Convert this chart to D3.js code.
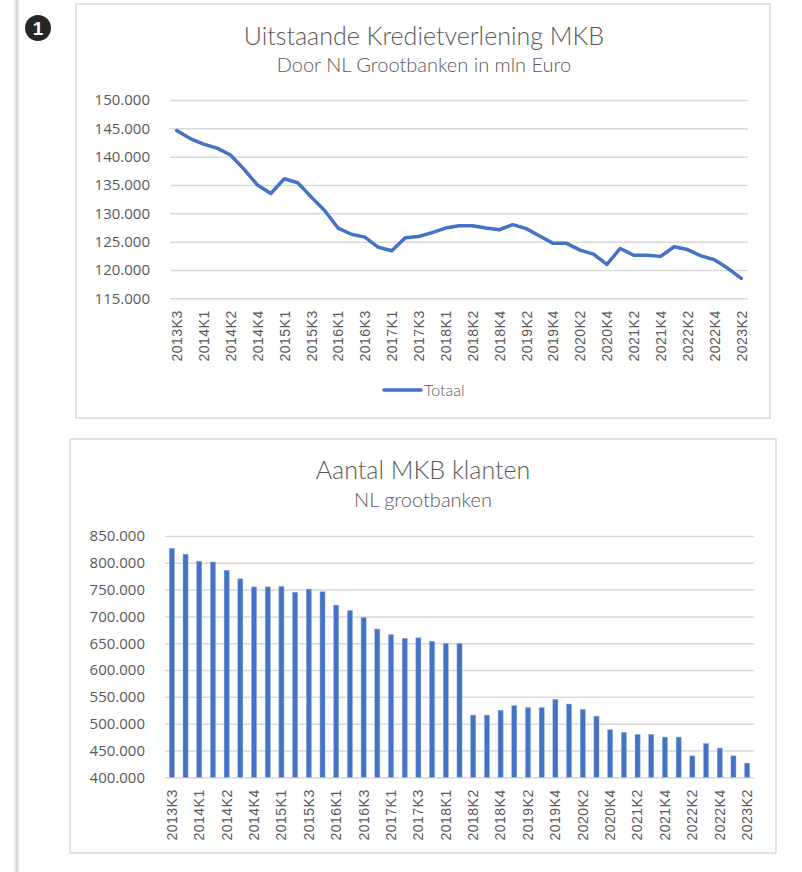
<!DOCTYPE html>
<html>
<head>
<meta charset="utf-8">
<script src="https://cdn.jsdelivr.net/npm/d3@7"></script>
<style>
  body { margin: 0; background: #fff; }
  text { fill: #595959; }
</style>
</head>
<body>
<div id="my_dataviz"></div>
<script>
// kwartalen (43 stuks, alleen de even posities krijgen een label op de as)
var kwartalen = ["2013K3","2013K4","2014K1","2014K1b","2014K2","2014K3","2014K4","2014K4b",
    "2015K1","2015K2","2015K3","2015K4","2016K1","2016K2","2016K3","2016K4",
    "2017K1","2017K2","2017K3","2017K4","2018K1","2018K1b","2018K2","2018K3","2018K4",
    "2019K1","2019K2","2019K3","2019K4","2020K1","2020K2","2020K3","2020K4",
    "2021K1","2021K2","2021K3","2021K4","2022K1","2022K2","2022K3","2022K4",
    "2023K1","2023K2"];

// uitstaande kredietverlening MKB, mln euro
var totaal = [144600,143200,142200,141500,140300,137800,135000,133500,136100,135400,
    132900,130500,127400,126300,125800,124000,123400,125700,125900,126600,
    127400,127800,127800,127400,127100,128000,127300,126000,124700,124700,
    123500,122800,121000,123800,122600,122600,122400,124100,123600,122500,
    121800,120300,118500];

// aantal MKB klanten
var klanten = [827000,816000,803000,801500,786000,770000,755000,755000,756000,745000,
    751000,746000,721000,711000,698000,676500,666000,659000,660000,653500,
    650000,650000,516000,516000,525000,533500,530000,530000,545500,536600,
    526700,514000,488600,483600,480000,480000,475000,475000,440000,463000,
    454500,440000,426500];

var ticksKrediet = [115000,120000,125000,130000,135000,140000,145000,150000];
var ticksKlanten = [400000,450000,500000,550000,600000,650000,700000,750000,800000,850000];

var blauw = "#4472C4";
var nl = d3.formatLocale({decimal: ",", thousands: ".", grouping: [3], currency: ["€", ""]});
var fmt = nl.format(",.0f");
var idx = d3.range(kwartalen.length);
var labelIdx = idx.filter(function(i) { return i % 2 === 0; });

var svg = d3.select("#my_dataviz")
    .append("svg")
    .attr("width", 802)
    .attr("height", 872);

// schaduwrand links
var defs = svg.append("defs");
var grad = defs.append("linearGradient").attr("id", "rand");
grad.append("stop").attr("offset", "0%").attr("stop-color", "#ffffff");
grad.append("stop").attr("offset", "60%").attr("stop-color", "#d6d6d6");
grad.append("stop").attr("offset", "100%").attr("stop-color", "#efefef");
svg.append("rect")
    .attr("x", 13).attr("y", 0)
    .attr("width", 6).attr("height", 872)
    .attr("fill", "url(#rand)");

// nummer-icoon
svg.append("circle")
    .attr("cx", 38).attr("cy", 28).attr("r", 13)
    .attr("fill", "#262626");
svg.append("text")
    .attr("x", 38).attr("y", 35)
    .attr("text-anchor", "middle")
    .style("fill", "#fff")
    .style("font", "bold 19px 'Liberation Sans', Arial, sans-serif")
    .text("1");

function kader(x, y, w, h) {
    svg.append("rect")
        .attr("x", x).attr("y", y)
        .attr("width", w).attr("height", h)
        .attr("fill", "#fff")
        .attr("stroke", "#d9d9d9")
        .attr("stroke-width", 1.5);
}

function titels(cx, y1, t1, y2, t2) {
    svg.append("text")
        .attr("x", cx).attr("y", y1)
        .attr("text-anchor", "middle")
        .style("font-family", "Lato, sans-serif")
        .style("font-weight", 300)
        .style("font-size", "25px")
        .text(t1);
    svg.append("text")
        .attr("x", cx).attr("y", y2)
        .attr("text-anchor", "middle")
        .style("font-family", "Lato, sans-serif")
        .style("font-weight", 300)
        .style("font-size", "20px")
        .text(t2);
}

function yAs(g, y, ticks, left, right) {
    g.attr("transform", "translate(" + left + ",0)")
        .call(d3.axisLeft(y).tickValues(ticks).tickFormat(fmt)
            .tickSize(-(right - left)).tickPadding(20))
        .call(function(g) { g.select(".domain").remove(); })
        .call(function(g) {
            g.selectAll(".tick line").attr("stroke", "#d9d9d9").attr("stroke-width", 1.5);
            g.selectAll(".tick text")
                .style("font-family", "'Open Sans', sans-serif")
                .style("font-size", "15px")
                .style("fill", "#595959");
        });
}

function xAs(g, x, yPos) {
    g.attr("transform", "translate(0," + yPos + ")")
        .call(d3.axisBottom(x).tickValues(labelIdx)
            .tickFormat(function(i) { return kwartalen[i]; })
            .tickSize(0))
        .call(function(g) { g.select(".domain").remove(); })
        .call(function(g) {
            g.selectAll(".tick text")
                .attr("transform", "rotate(-90)")
                .attr("text-anchor", "end")
                .attr("x", -12)
                .attr("y", 0)
                .attr("dy", "0.35em")
                .style("font-family", "'Liberation Sans', Arial, sans-serif")
                .style("font-size", "14px")
                .style("letter-spacing", "0.5px")
                .style("fill", "#595959");
        });
}

// ---- grafiek 1: lijn ----
kader(76, 4, 694, 414);
titels(424, 45, "Uitstaande Kredietverlening MKB", 72, "Door NL Grootbanken in mln Euro");

var x1 = d3.scalePoint().domain(idx).range([170, 748]).padding(0.5);
var y1 = d3.scaleLinear().domain([115000, 150000]).range([298.3, 100]);

svg.append("g").call(yAs, y1, ticksKrediet, 170, 748);
svg.append("g").call(xAs, x1, 298.3);

svg.append("path")
    .datum(totaal)
    .attr("fill", "none")
    .attr("stroke", blauw)
    .attr("stroke-width", 3.5)
    .attr("stroke-linejoin", "round")
    .attr("stroke-linecap", "round")
    .attr("d", d3.line()
        .x(function(d, i) { return x1(i); })
        .y(function(d) { return y1(d); }));

// legenda
svg.append("line")
    .attr("x1", 384).attr("x2", 421)
    .attr("y1", 390).attr("y2", 390)
    .attr("stroke", blauw)
    .attr("stroke-width", 3.5)
    .attr("stroke-linecap", "round");
svg.append("text")
    .attr("x", 424).attr("y", 395.5)
    .style("font-family", "Lato, sans-serif")
    .style("font-weight", 300)
    .style("font-size", "16px")
    .text("Totaal");

// ---- grafiek 2: staven ----
kader(70, 439, 706, 414);
titels(423, 479, "Aantal MKB klanten", 507, "NL grootbanken");

var x2 = d3.scaleBand().domain(idx).range([165, 754]).paddingInner(0.63).paddingOuter(0.315);
var y2 = d3.scaleLinear().domain([400000, 850000]).range([777.3, 536]);

svg.append("g").call(yAs, y2, ticksKlanten, 165, 754);

svg.append("g")
    .selectAll("rect")
    .data(klanten)
    .enter()
    .append("rect")
    .attr("x", function(d, i) { return x2(i); })
    .attr("y", function(d) { return y2(d); })
    .attr("width", x2.bandwidth())
    .attr("height", function(d) { return y2(400000) - y2(d); })
    .attr("fill", blauw)
    .attr("stroke", "#8faadc")
    .attr("stroke-width", 0.5);

svg.append("g").call(xAs, x2.copy().paddingInner(0).paddingOuter(0), 777.3);
</script>
</body>
</html>
